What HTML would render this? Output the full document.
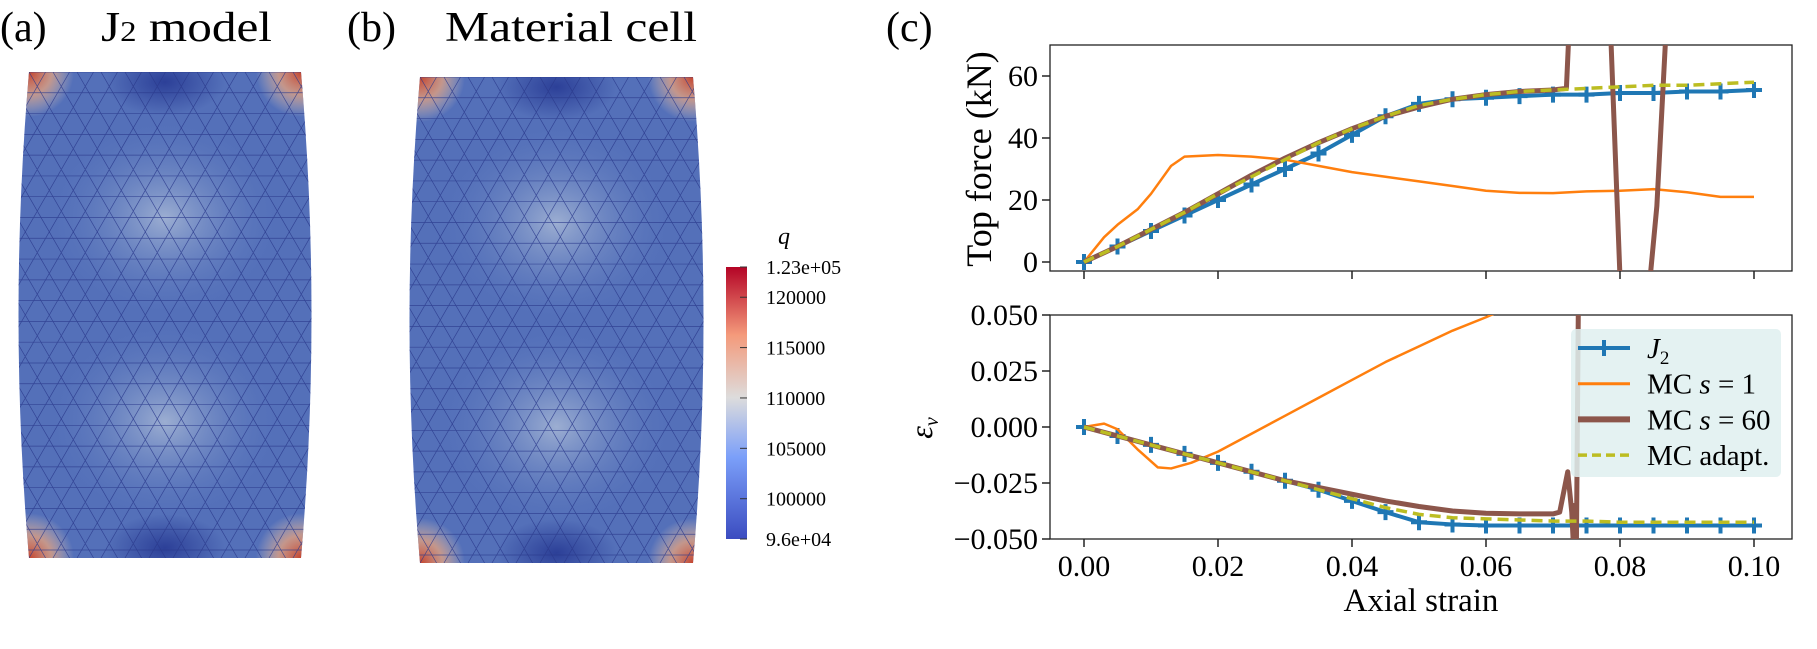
<!DOCTYPE html>
<html><head><meta charset="utf-8"><style>
body{margin:0;background:#fff;}
svg text{font-family:"Liberation Serif","DejaVu Serif",serif;}
</style></head><body>
<svg id="root" width="1817" height="644" viewBox="0 0 1817 644" xmlns="http://www.w3.org/2000/svg">
<defs>
<linearGradient id="cbar" x1="0" y1="1" x2="0" y2="0">
<stop offset="0" stop-color="#3b4cc0"/><stop offset="0.3" stop-color="#7b9ff9"/><stop offset="0.52" stop-color="#dddcdc"/><stop offset="0.75" stop-color="#f49a7b"/><stop offset="1" stop-color="#b40426"/>
</linearGradient>
<radialGradient id="hl" cx="0.5" cy="0.5" r="0.5"><stop offset="0" stop-color="#a9b9d6" stop-opacity="0.85"/><stop offset="1" stop-color="#5a78be" stop-opacity="0"/></radialGradient>
<radialGradient id="dk" cx="0.5" cy="0.5" r="0.5"><stop offset="0" stop-color="#2a3d96" stop-opacity="0.95"/><stop offset="1" stop-color="#2a3d96" stop-opacity="0"/></radialGradient>
<radialGradient id="rd" cx="0.5" cy="0.5" r="0.5"><stop offset="0" stop-color="#c4452f"/><stop offset="0.5" stop-color="#e0a080" stop-opacity="0.8"/><stop offset="1" stop-color="#d8c8c0" stop-opacity="0"/></radialGradient>
<clipPath id="clipA"><path d="M29,72 L301,72 Q322,315 301,558 L29,558 Q8,315 29,72Z"/></clipPath>
<clipPath id="clipB"><path d="M420,77 L693,77 Q714,320 693,563 L420,563 Q399,320 420,77Z"/></clipPath>
<clipPath id="clipTop"><rect x="1050" y="45" width="742" height="226"/></clipPath>
<clipPath id="clipBot"><rect x="1050" y="315" width="742" height="224"/></clipPath>
</defs>
<text x="0" y="41" font-size="42">(a)</text>
<text x="101" y="41" font-size="42" textLength="171" lengthAdjust="spacingAndGlyphs">J<tspan font-size="28">2</tspan> model</text>
<text x="347" y="41" font-size="42">(b)</text>
<text x="445" y="41" font-size="42" textLength="252" lengthAdjust="spacingAndGlyphs">Material cell</text>
<text x="886" y="41" font-size="42">(c)</text>
<g id="meshA"></g>
<g id="meshB"></g>
<g>
<rect x="726" y="267" width="21" height="272" fill="url(#cbar)"/>
<text x="778" y="244" font-size="24" font-style="italic" font-family="Liberation Sans,sans-serif">q</text>
<g id="cbticks" font-size="20" font-family="Liberation Sans,sans-serif"></g>
</g>
<g id="chart"></g>
</svg>
<script>
const NS='http://www.w3.org/2000/svg';
function mk(tag,attrs,parent){const e=document.createElementNS(NS,tag);for(const k in attrs)e.setAttribute(k,attrs[k]);parent.appendChild(e);return e;}
const cbLabels=['1.23e+05','120000','115000','110000','105000','100000','9.6e+04'];
const cbVals=[123000,120000,115000,110000,105000,100000,96000];
const cbt=document.getElementById('cbticks');
cbVals.forEach((v,i)=>{const y=539-(v-96000)/(27000)*272;
 mk('line',{x1:740,x2:747,y1:y,y2:y,stroke:'#333','stroke-width':1},cbt);
 const t=mk('text',{x:766,y:y+7},cbt);t.textContent=cbLabels[i];
 
 });
function mesh(g,clip,x0,x1,y0,y1){
 const cg=mk('g',{'clip-path':'url(#'+clip+')'},g);
 mk('rect',{x:x0-20,y:y0,width:x1-x0+40,height:y1-y0,fill:'#5470b9'},cg);
 const w=x1-x0,h=y1-y0,cx=(x0+x1)/2;
 mk('ellipse',{cx:cx,cy:y0+h*0.3,rx:w*0.42,ry:h*0.2,fill:'url(#hl)'},cg);
 mk('ellipse',{cx:cx,cy:y0+h*0.72,rx:w*0.42,ry:h*0.2,fill:'url(#hl)'},cg);
 mk('ellipse',{cx:cx,cy:y0+10,rx:w*0.22,ry:h*0.07,fill:'url(#dk)'},cg);
 mk('ellipse',{cx:cx,cy:y1-10,rx:w*0.22,ry:h*0.07,fill:'url(#dk)'},cg);
 [[x0,y0],[x1,y0],[x0,y1],[x1,y1]].forEach(p=>mk('circle',{cx:p[0],cy:p[1],r:45,fill:'url(#rd)'},cg));
 const s=24,rh=s*0.866;let d='';
 for(let y=y0;y<=y1+1;y+=rh){d+='M'+(x0-30)+','+y+'H'+(x1+30);}
 for(let k=-30;k<30;k++){const xa=x0+k*s;d+='M'+xa+','+y0+'L'+(xa+(y1-y0)/1.732)+','+y1;d+='M'+xa+','+y1+'L'+(xa+(y1-y0)/1.732)+','+y0;}
 mk('path',{d:d,stroke:'#2a3a8c','stroke-width':0.7,fill:'none','stroke-opacity':0.8},cg);
}
mesh(document.getElementById('meshA'),'clipA',29,301,72,558);
mesh(document.getElementById('meshB'),'clipB',420,693,77,563);

// ===== chart data =====
const xJ2=[0,0.005,0.01,0.015,0.02,0.025,0.03,0.035,0.04,0.045,0.05,0.055,0.06,0.065,0.07,0.075,0.08,0.085,0.09,0.095,0.1];
const fJ2=[0,5,10,15,20,25,30,35,41,47,51,52.5,53,53.5,54,54,54.5,54.5,55,55,55.5];
const fAd=[0,5,10.5,16,22,27.5,33,38.5,43,47,50.5,52.5,54,55,55.5,56,56.5,57,57,57.5,58];
const xS1=[0,0.003,0.005,0.008,0.01,0.012,0.013,0.015,0.02,0.025,0.03,0.035,0.04,0.045,0.05,0.055,0.06,0.065,0.07,0.075,0.08,0.085,0.09,0.095,0.1];
const fS1=[0,8,12,17,22,28,31,34,34.5,34,33,31,29,27.5,26,24.5,23,22.3,22.2,22.8,23,23.5,22.5,21,21];
const xS60=[0,0.005,0.01,0.015,0.02,0.025,0.03,0.035,0.04,0.045,0.05,0.055,0.06,0.065,0.07,0.072,0.0725,0.0785,0.08,0.0845,0.0855,0.087];
const fS60=[0,5,10.5,16,22,28,33.5,38.5,43,47,50,52.5,54,55,55.5,56,80,80,-5,-5,18,80];
const eJ2=[0,-0.004,-0.008,-0.012,-0.016,-0.020,-0.024,-0.028,-0.033,-0.038,-0.0425,-0.0435,-0.044,-0.044,-0.044,-0.044,-0.044,-0.044,-0.044,-0.044,-0.044];
const eAd=[0,-0.004,-0.008,-0.012,-0.016,-0.020,-0.024,-0.028,-0.032,-0.036,-0.039,-0.0405,-0.041,-0.0415,-0.042,-0.042,-0.0425,-0.0425,-0.0425,-0.0425,-0.0425];
const xE1=[0,0.003,0.005,0.008,0.011,0.013,0.016,0.02,0.025,0.03,0.035,0.04,0.045,0.05,0.055,0.06,0.063];
const eS1=[0,0.0015,-0.001,-0.01,-0.018,-0.0185,-0.016,-0.011,-0.003,0.005,0.013,0.021,0.029,0.036,0.043,0.049,0.053];
const xE60=[0,0.005,0.01,0.015,0.02,0.025,0.03,0.035,0.04,0.045,0.05,0.055,0.06,0.065,0.07,0.071,0.0722,0.0728,0.073,0.0732,0.0735,0.0738];
const eS60=[0,-0.004,-0.008,-0.012,-0.016,-0.020,-0.024,-0.027,-0.030,-0.033,-0.0355,-0.0375,-0.0385,-0.0388,-0.0388,-0.038,-0.02,-0.038,-0.05,-0.035,-0.05,0.06];
const xTicks=[0,0.02,0.04,0.06,0.08,0.1];
const xTickLabels=['0.00','0.02','0.04','0.06','0.08','0.10'];
const fTicks=[0,20,40,60];
const eTicks=[0.05,0.025,0,-0.025,-0.05];
const eTickLabels=['0.050','0.025','0.000','−0.025','−0.050'];

const X=v=>1084+v/0.1*670;
const YF=v=>262-v/60*186;
const YE=v=>539-(v+0.05)/0.1*224;
const ch=document.getElementById('chart');
const C={j2:'#1f77b4',s1:'#ff7f0e',s60:'#8c564b',ad:'#bcbd22'};
function axes(y0,h,name){const r=mk('rect',{x:1050,y:y0,width:742,height:h,fill:'none',stroke:'#222','stroke-width':1.3},ch);
 }
axes(45,226,'top-force-axes');axes(315,224,'volumetric-strain-axes');
xTicks.forEach((v,i)=>{[271,539].forEach(yb=>mk('line',{x1:X(v),x2:X(v),y1:yb,y2:yb+8,stroke:'#222','stroke-width':1.5},ch));
 const t=mk('text',{x:X(v),y:576,'font-size':30,'text-anchor':'middle'},ch);t.textContent=xTickLabels[i];
 });
fTicks.forEach(v=>{mk('line',{x1:1042,x2:1050,y1:YF(v),y2:YF(v),stroke:'#222','stroke-width':1.5},ch);
 const t=mk('text',{x:1038,y:YF(v)+10,'font-size':30,'text-anchor':'end'},ch);t.textContent=v;
 });
eTicks.forEach((v,i)=>{mk('line',{x1:1042,x2:1050,y1:YE(v),y2:YE(v),stroke:'#222','stroke-width':1.5},ch);
 const t=mk('text',{x:1038,y:YE(v)+10,'font-size':30,'text-anchor':'end'},ch);t.textContent=eTickLabels[i];
 });
let t=mk('text',{x:1421,y:611,'font-size':33,'text-anchor':'middle'},ch);t.textContent='Axial strain';

t=mk('text',{x:0,y:0,'font-size':36,'text-anchor':'middle',transform:'translate(991,159) rotate(-90)'},ch);t.textContent='Top force (kN)';

t=mk('text',{x:0,y:0,'font-size':32,'font-style':'italic','text-anchor':'middle',transform:'translate(932,428) rotate(-90)'},ch);t.innerHTML='ε<tspan font-size="20" dy="6">v</tspan>';

function line(xs,ys,Y,clip,col,w,dash,name){const g=mk('g',{'clip-path':'url(#'+clip+')'},ch);
 const p=mk('polyline',{points:xs.map((x,i)=>X(x)+','+Y(ys[i])).join(' '),fill:'none',stroke:col,'stroke-width':w,'stroke-linejoin':'round'},g);
 if(dash)p.setAttribute('stroke-dasharray',dash);
 return g;}
function markers(xs,ys,Y,clip){const g=mk('g',{'clip-path':'url(#'+clip+')'},ch);
 xs.forEach((x,i)=>{const m=mk('path',{d:`M${X(x)-8},${Y(ys[i])}h16M${X(x)},${Y(ys[i])-8}v16`,stroke:C.j2,'stroke-width':4},g);
 });}
line(xJ2,fJ2,YF,'clipTop',C.j2,4,null,'j2-force-line');markers(xJ2,fJ2,YF,'clipTop');
line(xS1,fS1,YF,'clipTop',C.s1,2.5,null,'mc-s1-force-line');
line(xS60,fS60,YF,'clipTop',C.s60,5,null,'mc-s60-force-line');
line(xJ2,fAd,YF,'clipTop',C.ad,3.5,'11,6','mc-adapt-force-line');
line(xJ2,eJ2,YE,'clipBot',C.j2,4,null,'j2-ev-line');markers(xJ2,eJ2,YE,'clipBot');
line(xE1,eS1,YE,'clipBot',C.s1,2.5,null,'mc-s1-ev-line');
line(xE60,eS60,YE,'clipBot',C.s60,5,null,'mc-s60-ev-line');
line(xJ2,eAd,YE,'clipBot',C.ad,3.5,'11,6','mc-adapt-ev-line');
const lg=mk('g',{},ch);
mk('rect',{x:1571,y:329,width:210,height:148,rx:5,fill:'#dff0f0','fill-opacity':0.85},lg);
const legNames=['J₂','MC s = 1','MC s = 60','MC adapt.'];
const legCols=[C.j2,C.s1,C.s60,C.ad];const legW=[4,3,6,3.5];
legNames.forEach((n,i)=>{const y=348+i*35.7;
 const l=mk('line',{x1:1578,x2:1630,y1:y,y2:y,stroke:legCols[i],'stroke-width':legW[i]},lg);
 if(i==3)l.setAttribute('stroke-dasharray','9,5');
 if(i==0)mk('path',{d:`M1604,${y-8}v16M1596,${y}h16`,stroke:C.j2,'stroke-width':4},lg);
 const tt=mk('text',{x:1647,y:y+10,'font-size':29},lg);
 if(i==0)tt.innerHTML='<tspan font-style="italic">J</tspan><tspan font-size="19" dy="6">2</tspan>';
 else if(i<3)tt.innerHTML='MC <tspan font-style="italic">s</tspan> = '+(i==1?'1':'60');
 else tt.textContent=n;
 });
</script>
</body></html>
